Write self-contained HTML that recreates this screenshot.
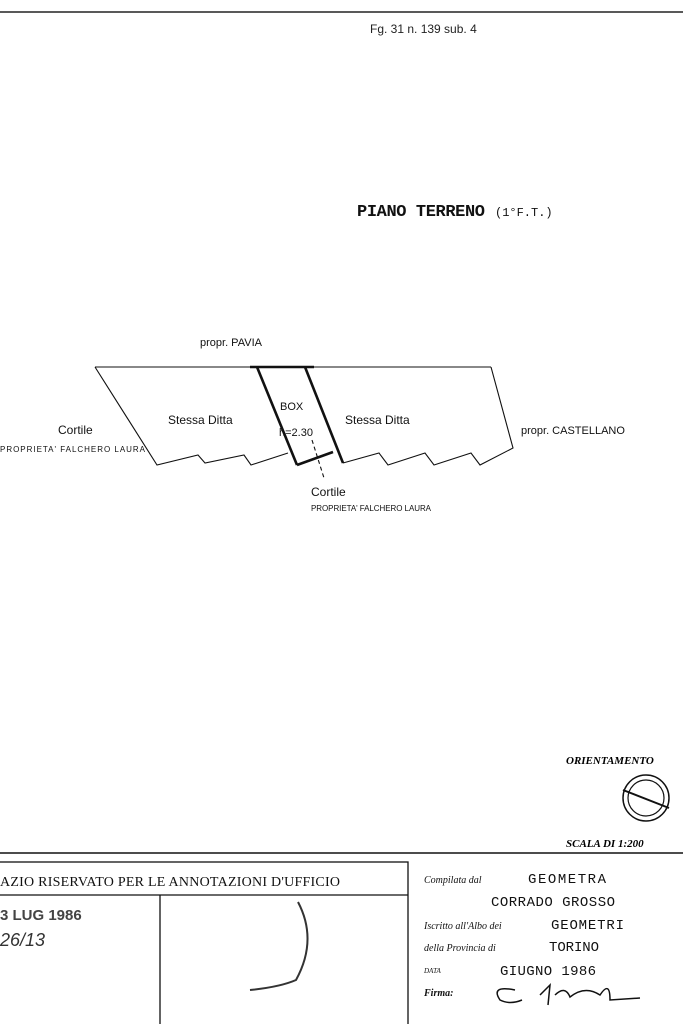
<!DOCTYPE html>
<html><head><style>
body{margin:0;width:683px;height:1024px;background:#fff;overflow:hidden;font-family:"Liberation Sans",sans-serif}
svg{position:absolute;left:0;top:0}
</style></head><body>
<svg width="683" height="1024" viewBox="0 0 683 1024">
<line x1="0" y1="12" x2="683" y2="12" stroke="#222" stroke-width="1.5"/>
<text x="370" y="33" font-size="12" font-family="Liberation Sans" fill="#222">Fg. 31 n. 139 sub. 4</text>
<text x="357" y="216" font-size="17" font-family="Liberation Mono" fill="#111" font-weight="bold" textLength="128">PIANO TERRENO</text>
<text x="495" y="216" font-size="12" font-family="Liberation Mono" fill="#111">(1°F.T.)</text>
<g stroke="#111" fill="none" stroke-width="1.1">
<line x1="95" y1="367" x2="491" y2="367"/>
<polyline points="95,367 157,465 198,455 205,463 244,455 251,465 288,453"/>
<polyline points="343,463 379,453 388,465 425,453 434,465 471,453 480,465 513,448 491,367"/>
<g stroke-width="2.6"><line x1="257" y1="367" x2="297" y2="465"/><line x1="305" y1="367" x2="343" y2="463"/><line x1="297" y1="465" x2="333" y2="452"/><line x1="250" y1="367" x2="314" y2="367"/></g>
<line x1="312" y1="440" x2="324" y2="478" stroke-dasharray="4,3"/>
</g>
<g font-family="Liberation Sans" fill="#111">
<text x="200" y="346" font-size="11">propr.  PAVIA</text>
<text x="168" y="424" font-size="12">Stessa Ditta</text>
<text x="345" y="424" font-size="12">Stessa Ditta</text>
<text x="280" y="410" font-size="11">BOX</text>
<text x="279" y="436" font-size="11">h=2.30</text>
<text x="58" y="434" font-size="12">Cortile</text>
<text x="0" y="452" font-size="8" textLength="145">PROPRIETA' FALCHERO LAURA</text>
<text x="521" y="434" font-size="11">propr. CASTELLANO</text>
<text x="311" y="496" font-size="12">Cortile</text>
<text x="311" y="511" font-size="8" textLength="120">PROPRIETA' FALCHERO LAURA</text>
</g>
<text x="566" y="764" font-size="11" font-weight="bold" font-style="italic" font-family="Liberation Serif">ORIENTAMENTO</text>
<circle cx="646" cy="798" r="23" stroke="#111" fill="none" stroke-width="1.5"/>
<circle cx="646" cy="798" r="18" stroke="#111" fill="none" stroke-width="1.2"/>
<line x1="623" y1="790" x2="669" y2="808" stroke="#111" stroke-width="2"/>
<text x="566" y="847" font-size="11" font-weight="bold" font-style="italic" font-family="Liberation Serif">SCALA DI 1:200</text>
<line x1="0" y1="853" x2="683" y2="853" stroke="#111" stroke-width="1.5"/>
<rect x="-2" y="862" width="410" height="170" stroke="#111" fill="none" stroke-width="1.3"/>
<line x1="0" y1="895" x2="408" y2="895" stroke="#111" stroke-width="1.3"/>
<line x1="160" y1="895" x2="160" y2="1024" stroke="#111" stroke-width="1.3"/>
<text x="0" y="886" font-size="14" font-family="Liberation Serif" fill="#111" textLength="340">AZIO RISERVATO PER LE ANNOTAZIONI D'UFFICIO</text>
<text x="0" y="920" font-size="15" font-weight="bold" fill="#444">3 LUG 1986</text>
<text x="0" y="946" font-size="18" font-style="italic" fill="#333">26/13</text>
<path d="M298 902 Q318 940 296 980 Q280 987 250 990" stroke="#333" fill="none" stroke-width="2"/>
<g font-family="Liberation Serif" font-style="italic" font-size="10" fill="#111">
<text x="424" y="883">Compilata dal</text>
<text x="424" y="929">Iscritto all'Albo dei</text>
<text x="424" y="951">della Provincia di</text>
<text x="424" y="973" font-size="7">DATA</text>
<text x="424" y="996" font-weight="bold">Firma:</text>
</g>
<g font-family="Liberation Mono" font-size="14" fill="#111">
<text x="528" y="883" textLength="78">GEOMETRA</text>
<text x="491" y="906" textLength="124">CORRADO GROSSO</text>
<text x="551" y="929" textLength="73">GEOMETRI</text>
<text x="549" y="951" textLength="50">TORINO</text>
<text x="500" y="975" textLength="96">GIUGNO 1986</text>
</g>
<path d="M515 990 Q490 985 500 1000 Q510 1005 522 1000 M540 995 L550 985 L548 1005 M555 995 Q565 985 570 997 Q585 985 600 995 Q610 980 610 1000 L640 998" stroke="#111" fill="none" stroke-width="1.5"/>
</svg>
</body></html>
